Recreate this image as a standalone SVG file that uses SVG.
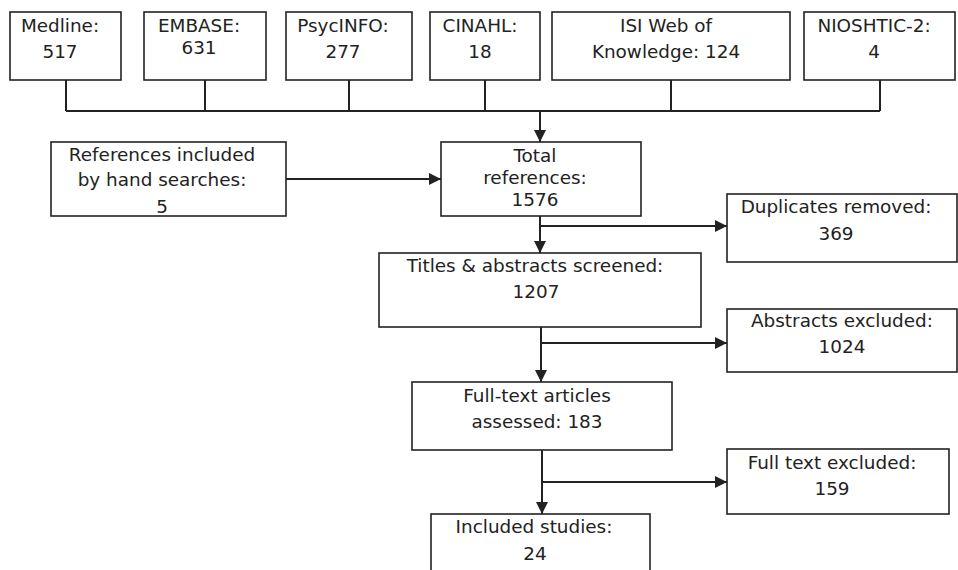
<svg xmlns="http://www.w3.org/2000/svg" width="958" height="570" viewBox="0 0 958 570">
<style>
.box{fill:#fff;stroke:#222;stroke-width:1.6}
text{font-family:"DejaVu Sans",Verdana,sans-serif;font-size:18.4px;fill:#222;text-anchor:middle}
.c{fill:none;stroke:#222;stroke-width:2}
</style>
<defs>
<marker id="ah" viewBox="0 0 10 10" refX="10" refY="5" markerWidth="6" markerHeight="6" markerUnits="strokeWidth" orient="auto">
<path d="M0,0 L10,5 L0,10 Z" fill="#222"/>
</marker>
</defs>
<rect width="958" height="570" fill="#fff"/>
<g id="connectors">
<path class="c" d="M66,80 V111 M205,80 V111 M349,80 V111 M485,80 V111 M671,80 V111 M880,80 V111 M66,111 H880"/>
<path class="c" d="M540,111 V142" marker-end="url(#ah)"/>
<path class="c" d="M286,179 H441" marker-end="url(#ah)"/>
<path class="c" d="M540,216 V253" marker-end="url(#ah)"/>
<path class="c" d="M540,226 H727" marker-end="url(#ah)"/>
<path class="c" d="M541,327 V382" marker-end="url(#ah)"/>
<path class="c" d="M541,343 H727" marker-end="url(#ah)"/>
<path class="c" d="M542,450 V514" marker-end="url(#ah)"/>
<path class="c" d="M542,482 H727" marker-end="url(#ah)"/>
</g>
<g id="medline"><rect class="box" x="10" y="12" width="111" height="68"/><text x="60" y="32">Medline:</text><text x="60" y="58">517</text></g>
<g id="embase"><rect class="box" x="144" y="12" width="122" height="68"/><text x="199" y="32">EMBASE:</text><text x="199" y="54">631</text></g>
<g id="psycinfo"><rect class="box" x="286" y="12" width="126" height="68"/><text x="343" y="32">PsycINFO:</text><text x="343" y="58">277</text></g>
<g id="cinahl"><rect class="box" x="430" y="12" width="110" height="68"/><text x="480" y="32">CINAHL:</text><text x="480" y="58">18</text></g>
<g id="isi"><rect class="box" x="552" y="12" width="238" height="68"/><text x="666" y="32">ISI Web of</text><text x="666" y="58">Knowledge: 124</text></g>
<g id="nioshtic"><rect class="box" x="804" y="12" width="151" height="68"/><text x="874" y="32">NIOSHTIC-2:</text><text x="874" y="58">4</text></g>
<g id="hand"><rect class="box" x="51" y="142" width="235" height="74"/><text x="162" y="161">References included</text><text x="162" y="186">by hand searches:</text><text x="162" y="213">5</text></g>
<g id="total"><rect class="box" x="441" y="142" width="200" height="74"/><text x="535" y="162">Total</text><text x="535" y="184">references:</text><text x="535" y="206">1576</text></g>
<g id="duplicates"><rect class="box" x="727" y="194" width="230" height="68"/><text x="836" y="213">Duplicates removed:</text><text x="836" y="240">369</text></g>
<g id="titles"><rect class="box" x="379" y="253" width="322" height="74"/><text x="535" y="272">Titles &amp; abstracts screened:</text><text x="536" y="298">1207</text></g>
<g id="abstracts"><rect class="box" x="727" y="309" width="230" height="63"/><text x="842" y="327">Abstracts excluded:</text><text x="842" y="353">1024</text></g>
<g id="fulltext"><rect class="box" x="412" y="382" width="260" height="68"/><text x="537" y="402">Full-text articles</text><text x="537" y="428">assessed: 183</text></g>
<g id="ftexcluded"><rect class="box" x="727" y="449" width="222" height="65"/><text x="832" y="469">Full text excluded:</text><text x="832" y="495">159</text></g>
<g id="included"><rect class="box" x="431" y="514" width="219" height="70"/><text x="534" y="533">Included studies:</text><text x="535" y="560">24</text></g>
</svg>
